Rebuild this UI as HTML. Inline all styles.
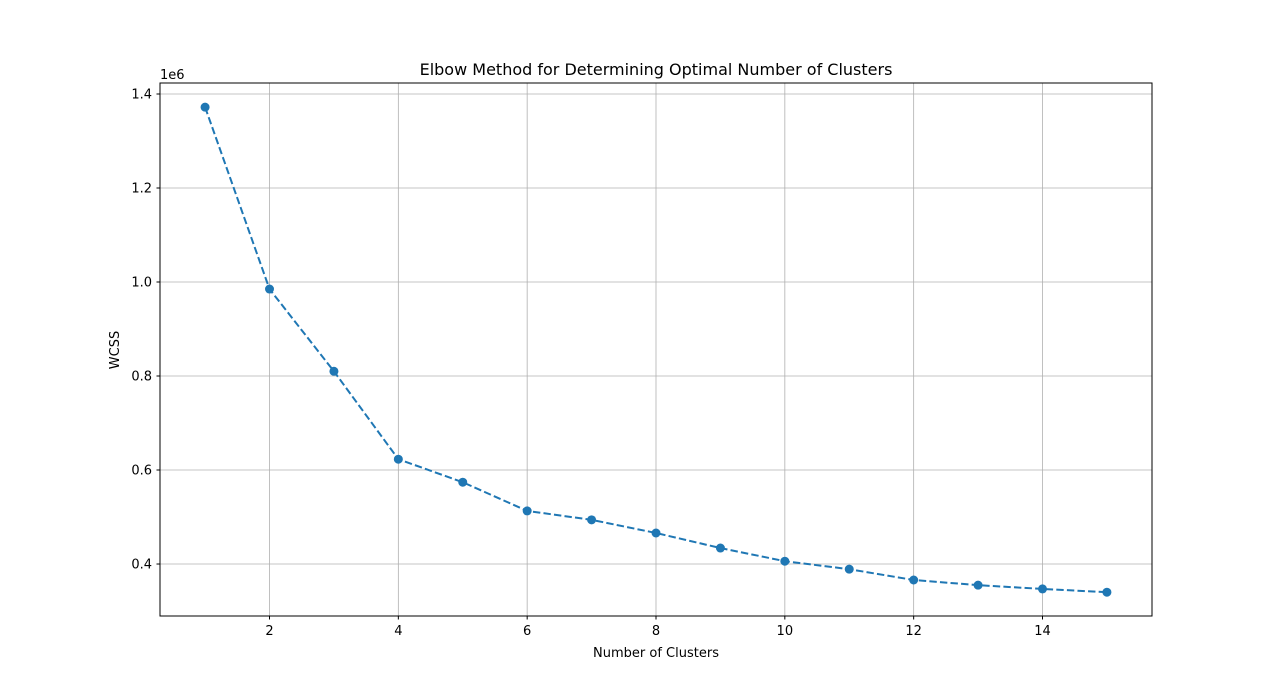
<!DOCTYPE html>
<html><head><meta charset="utf-8"><style>
body{margin:0;background:#fff;font-family:"Liberation Sans","DejaVu Sans",sans-serif;}
svg text{font-family:"DejaVu Sans","Liberation Sans",sans-serif;}
</style></head><body>
<svg id="chart" width="1280" height="692" xmlns="http://www.w3.org/2000/svg">
<rect width="1280" height="692" fill="#fff"/>
<g id="grid"></g>
<g id="series"></g>
<rect x="160" y="83" width="992" height="533" fill="none" stroke="#000" stroke-width="1"/>
<g id="ticks"></g>
<text x="656" y="75" text-anchor="middle" font-size="16">Elbow Method for Determining Optimal Number of Clusters</text>
<text x="656" y="657" text-anchor="middle" font-size="13">Number of Clusters</text>
<text x="119" y="350" text-anchor="middle" font-size="13" transform="rotate(-90 119 350)">WCSS</text>
<text x="160" y="79" font-size="13">1e6</text>
</svg>
<script>
const clusters=[1,2,3,4,5,6,7,8,9,10,11,12,13,14,15];
const wcss=[1.372,0.985,0.810,0.623,0.574,0.513,0.494,0.466,0.434,0.406,0.389,0.366,0.355,0.347,0.340];
const xTicks=[2,4,6,8,10,12,14];
const yTicks=[0.4,0.6,0.8,1.0,1.2,1.4];
const yTickLabels=["0.4","0.6","0.8","1.0","1.2","1.4"];
const NS="http://www.w3.org/2000/svg";
const x=v=>160+(v-0.3)/(15.7-0.3)*992;
const y=v=>616-(v-0.2894)/(1.4234-0.2894)*533;
function mk(t,a,p){const e=document.createElementNS(NS,t);for(const k in a)e.setAttribute(k,a[k]);p.appendChild(e);return e;}
const g=document.getElementById('grid'),tk=document.getElementById('ticks'),s=document.getElementById('series');
xTicks.forEach(v=>{
 const l=mk('line',{x1:x(v),x2:x(v),y1:83,y2:616,stroke:'#b0b0b0','stroke-width':0.8},g);
 
 
 const t=mk('line',{x1:x(v),x2:x(v),y1:616,y2:619.5,stroke:'#000'},tk);
 
 
 const tx=mk('text',{x:x(v),y:635,'text-anchor':'middle','font-size':13},tk);tx.textContent=v;
 
 
});
yTicks.forEach((v,i)=>{
 const l=mk('line',{x1:160,x2:1152,y1:y(v),y2:y(v),stroke:'#b0b0b0','stroke-width':0.8},g);
 
 
 const t=mk('line',{x1:156.5,x2:160,y1:y(v),y2:y(v),stroke:'#000'},tk);
 
 
 const tx=mk('text',{x:152,y:y(v)+4.5,'text-anchor':'end','font-size':13},tk);tx.textContent=yTickLabels[i];
 
 
});
const pl=mk('polyline',{points:clusters.map((c,i)=>x(c)+','+y(wcss[i])).join(' '),fill:'none',stroke:'#1f77b4','stroke-width':2,'stroke-dasharray':'7.4,3.2'},s);


clusters.forEach((c,i)=>{
 const p=mk('circle',{cx:x(c),cy:y(wcss[i]),r:4.5,fill:'#1f77b4'},s);
 
 
});
</script>
</body></html>
